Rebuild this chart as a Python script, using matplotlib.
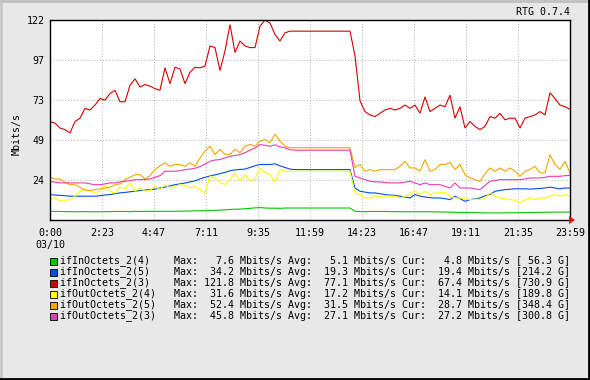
import numpy as np
import matplotlib
matplotlib.use("Agg")
import matplotlib.pyplot as plt
from matplotlib.patches import Rectangle, Polygon
from matplotlib.lines import Line2D

# samples across the day (minutes), one every ~14 min
n_pts = 105
minutes = np.linspace(0, 1439, n_pts)

in_2_4 = [5.3, 5.2, 5.2, 5.1, 5.1, 5.0, 5.1, 5.1, 5.0, 5.0,
          5.0, 5.1, 5.1, 5.2, 5.2, 5.2, 5.1, 5.3, 5.2, 5.2,
          5.3, 5.2, 5.3, 5.3, 5.3, 5.3, 5.4, 5.4, 5.5, 5.6,
          5.6, 5.7, 5.8, 5.9, 6.0, 6.2, 6.4, 6.6, 6.6, 6.9,
          7.1, 7.4, 7.6, 7.3, 7.2, 7.2, 7.1, 7.3, 7.3, 7.3,
          7.3, 7.3, 7.3, 7.3, 7.3, 7.3, 7.3, 7.3, 7.3, 7.3,
          7.3, 5.3, 5.1, 5.1, 5.2, 5.2, 5.2, 5.2, 5.1, 5.1,
          5.1, 5.0, 5.0, 5.0, 5.0, 5.0, 5.0, 5.0, 4.9, 4.9,
          4.8, 4.7, 4.6, 4.6, 4.5, 4.5, 4.4, 4.3, 4.3, 4.3,
          4.3, 4.4, 4.4, 4.4, 4.5, 4.5, 4.5, 4.6, 4.7, 4.7,
          4.8, 4.8, 4.8, 4.8, 4.8]
in_2_5 = [15.5, 15.2, 15, 14.8, 14.5, 14.5, 14.5, 14.5, 14.5, 14.5,
          14.8, 15.2, 15.5, 16, 16.5, 16.8, 17.2, 17.5, 18, 18.2,
          18.5, 18.8, 19.5, 20, 20.8, 21.5, 22, 22.5, 23.2, 23.8,
          25, 26, 26.8, 27.5, 28.2, 29, 30, 30.5, 30.8, 31,
          32, 33, 33.8, 33.8, 33.8, 34.2, 33, 32, 31, 30.7,
          30.7, 30.7, 30.7, 30.7, 30.7, 30.7, 30.7, 30.7, 30.7, 30.7,
          30.7, 19.5, 17.5, 17, 16.5, 16.5, 16, 15.5, 15.2, 15,
          14.5, 14, 13.4, 15.5, 14.5, 14, 13.6, 13.4, 13.4, 13,
          12.4, 14.5, 13, 11.4, 12.4, 13, 13.4, 14.8, 15.5, 17.5,
          18, 18.5, 18.7, 19, 19, 19, 18.8, 19, 19.2, 19.5,
          20, 19.5, 19, 19.5, 19.4]
in_2_3 = [60, 59, 56, 55, 53, 60, 62, 68, 67, 70,
          74, 73, 77, 79, 72, 72, 82, 86, 81, 82.5,
          81.5, 80, 79, 92.7, 83, 93, 92, 83, 90, 93,
          92.7, 93.7, 106, 105, 91, 103, 119, 102, 109, 106,
          105, 105, 118, 121.8, 120, 113, 109, 114, 115, 115,
          115, 115, 115, 115, 115, 115, 115, 115, 115, 115,
          115, 100, 72.6, 66, 64, 63, 65, 67, 68, 67,
          68, 70, 68, 70, 65, 75, 66, 68, 70, 69,
          76, 62, 69, 56, 60, 57, 55, 57, 63, 62,
          65, 61, 62, 62, 56, 62, 63, 64, 66, 64,
          77.5, 74, 70, 69, 67.4]
out_2_4 = [12.4, 13.4, 11.4, 12, 12.4, 14.5, 17.5, 19, 17.5, 16.8,
           17.5, 21, 17.5, 16.5, 20, 19, 22.6, 17.5, 19.5, 17.5,
           18, 20.5, 18.5, 21.5, 19.5, 20.5, 21.5, 21, 19.5, 20.5,
           18.5, 16.5, 26.6, 25.6, 23, 21.5, 24.6, 28.7, 23.6, 27.6,
           24, 25, 31.6, 29, 27.6, 23, 30.7, 29.7, 29.7, 29.7,
           29.7, 29.7, 29.7, 29.7, 29.7, 29.7, 29.7, 29.7, 29.7, 29.7,
           29.7, 16.5, 15.5, 13.4, 13.4, 14.5, 14.5, 14.5, 14.5, 14.5,
           13.4, 14.5, 15.5, 18, 15.5, 17.5, 15.5, 16.5, 16.5, 17,
           14.5, 13.4, 13.4, 13, 12.4, 12.8, 12.4, 13.4, 16.5, 14.5,
           13.4, 13, 12.4, 12, 10.4, 12.4, 13.4, 12.4, 13.4, 13.4,
           14.5, 15.5, 14.5, 15.5, 14.1]
out_2_5 = [26, 25, 25, 23, 21.5, 21.5, 20, 18, 18, 18.5,
           19, 19.5, 20, 21.5, 22, 24.6, 26, 27.6, 27.6, 25,
           27, 30.7, 33, 34.8, 32.7, 33.8, 33.8, 32.7, 34.8, 32.7,
           37.8, 41.9, 45, 39.7, 43, 40, 40, 43, 41, 45,
           46, 45, 48, 49, 47, 52.4, 48, 45, 44, 44,
           44, 44, 44, 44, 44, 44, 44, 44, 44, 44,
           44, 32, 33.8, 29.7, 30.7, 29.7, 30.7, 30.7, 30.7, 30.7,
           32.7, 35.8, 31.7, 31.7, 29.7, 36.8, 29.7, 30.7, 33.8, 33.8,
           35, 30.7, 33.8, 27.6, 25.6, 24.6, 23.6, 28, 31.7, 29.7,
           31.7, 29.7, 31.7, 29.7, 26.6, 29.7, 30.7, 32.7, 28.7, 28.7,
           39.8, 33.8, 30.7, 35.8, 28.7]
out_2_3 = [23.6, 23, 22.6, 22.6, 22.6, 22.6, 22.6, 22.6, 22, 21.5,
           21.5, 22, 22.6, 22.6, 23.2, 23.6, 24, 24.6, 24.6, 24.6,
           25, 26, 27, 29.7, 29.7, 29.7, 30, 30.7, 31, 31.5,
           32.5, 34, 35.8, 36.5, 36.8, 37.8, 38.8, 39.3, 39.8, 41,
           42.5, 43.9, 45.9, 45.5, 44.9, 45.8, 44.5, 43.9, 42.8, 42.5,
           42.5, 42.5, 42.5, 42.5, 42.5, 42.5, 42.5, 42.5, 42.5, 42.5,
           42.5, 26.6, 25.6, 24.6, 23.6, 23.2, 23.2, 22.8, 22.6, 22.6,
           22.6, 23, 23.6, 22.5, 21.5, 22.6, 21.5, 21.5, 21.5, 20.5,
           19.5, 22.6, 19.5, 19.5, 19.5, 19, 18.5, 21, 23.6, 24,
           24.6, 24.6, 24.6, 24.6, 24.6, 25, 25.6, 25.6, 25.6, 26,
           26.6, 26.6, 26.6, 27, 27.2]

names = ["ifInOctets_2(4)", "ifInOctets_2(5)", "ifInOctets_2(3)",
         "ifOutOctets_2(4)", "ifOutOctets_2(5)", "ifOutOctets_2(3)"]
series = [in_2_4, in_2_5, in_2_3, out_2_4, out_2_5, out_2_3]
colors = ["#00c800", "#0050e6", "#d40000", "#ffff00", "#f0a800", "#e83cb0"]
max_vals = [7.6, 34.2, 121.8, 31.6, 52.4, 45.8]
avg_vals = [5.1, 19.3, 77.1, 17.2, 31.5, 27.1]
cur_vals = [4.8, 19.4, 67.4, 14.1, 28.7, 27.2]
tot_vals = [56.3, 214.2, 730.9, 189.8, 348.4, 300.8]

x_labels = ["0:00", "2:23", "4:47", "7:11", "9:35", "11:59",
            "14:23", "16:47", "19:11", "21:35", "23:59"]
y_labels = ["24", "49", "73", "97", "122"]
y_top = 121.8

W, H = 590, 380
bg = "#e8e8e8"
mono = "DejaVu Sans Mono"
fs = 7.2

fig = plt.figure(figsize=(W / 100, H / 100), dpi=100, facecolor=bg)
ax = fig.add_axes([50 / W, (H - 220) / H, 520 / W, 200 / H])
ax.set_facecolor("white")

for s, c in zip(series, colors):
    ax.plot(minutes, s, color=c, lw=0.8, solid_joinstyle="miter")

ax.set_xlim(0, 1439)
ax.set_ylim(0, y_top)
ax.set_xticks(np.linspace(0, 1439, len(x_labels)))
ax.set_xticklabels(x_labels, family=mono, fontsize=fs)
ax.set_yticks([y_top * (k + 1) / 5 for k in range(5)])
ax.set_yticklabels(y_labels, family=mono, fontsize=fs)
ax.tick_params(axis="y", length=0, pad=4)
ax.tick_params(axis="x", length=0, pad=6)
ax.grid(True, color="#b0b0b0", linestyle=(0, (1, 2)), linewidth=0.7)
for sp in ax.spines.values():
    sp.set_color("black")
    sp.set_linewidth(1.0)
ax.set_ylabel("Mbits/s", family=mono, fontsize=fs)
ax.yaxis.set_label_coords(-28 / 520, 0.43)

# date under first tick
fig.text(50 / W, 1 - 245 / H, "03/10", family=mono, fontsize=fs,
         ha="center", va="center")
fig.text(570 / W, 1 - 12 / H, "RTG 0.7.4", family=mono, fontsize=fs,
         ha="right", va="center")

# red arrow at the end of the time axis
fig.patches.append(Polygon([[569 / W, 1 - 216 / H], [575 / W, 1 - 220 / H],
                            [569 / W, 1 - 224 / H]], closed=True,
                           facecolor="#ff0000", edgecolor="none",
                           transform=fig.transFigure))

# legend rows
for i, name in enumerate(names):
    yc = 1 - (261 + 10.9 * i) / H
    fig.patches.append(Rectangle((50 / W, yc - 4 / H), 7 / W, 7 / H,
                                 facecolor=colors[i], edgecolor="black",
                                 linewidth=0.6, transform=fig.transFigure))
    line = "%-19sMax: %5.1f Mbits/s Avg: %5.1f Mbits/s Cur: %5.1f Mbits/s [%5.1f G]" % (
        name, max_vals[i], avg_vals[i], cur_vals[i], tot_vals[i])
    fig.text(60 / W, yc, line, family=mono, fontsize=fs, ha="left", va="center")

# bevelled border
fig.add_artist(Line2D([0.5 / W, 0.5 / W], [0, 1], color="#c8c8c8", lw=2))
fig.add_artist(Line2D([0, 1], [1 - 1 / H, 1 - 1 / H], color="#c0c0c0", lw=2))
fig.add_artist(Line2D([1 - 1 / W, 1 - 1 / W], [0, 1], color="black", lw=2))
fig.add_artist(Line2D([0, 1], [1 / H, 1 / H], color="black", lw=2))

fig.savefig("out.png", dpi=100, facecolor=bg)
